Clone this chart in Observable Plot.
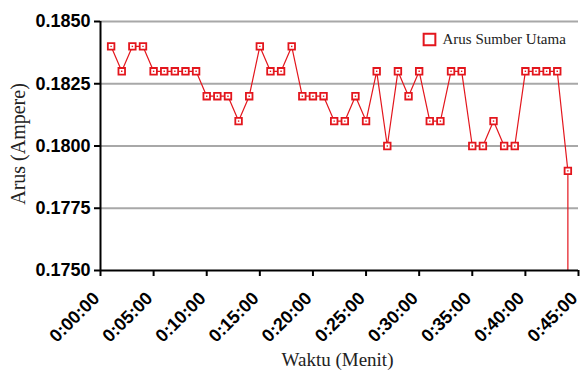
<!DOCTYPE html>
<html>
<head>
<meta charset="utf-8">
<script src="https://cdn.jsdelivr.net/npm/d3@7"></script>
<script src="https://cdn.jsdelivr.net/npm/@observablehq/plot@0.6"></script>
<style>
  html, body { margin: 0; padding: 0; background: #fff; }
</style>
</head>
<body>
<div id="chart"></div>
<script>
// Waktu (menit) for each sample; the final duplicate marks the drop at the end of the record
const menit = [1, 2, 3, 4, 5, 6, 7, 8, 9, 10,
               11, 12, 13, 14, 15, 16, 17, 18, 19, 20,
               21, 22, 23, 24, 25, 26, 27, 28, 29, 30,
               31, 32, 33, 34, 35, 36, 37, 38, 39, 40,
               41, 42, 43, 44, 44];
// Arus (Ampere)
const arus = [0.1840, 0.1830, 0.1840, 0.1840, 0.1830, 0.1830, 0.1830, 0.1830, 0.1830, 0.1820,
              0.1820, 0.1820, 0.1810, 0.1820, 0.1840, 0.1830, 0.1830, 0.1840, 0.1820, 0.1820,
              0.1820, 0.1810, 0.1810, 0.1820, 0.1810, 0.1830, 0.1800, 0.1830, 0.1820, 0.1830,
              0.1810, 0.1810, 0.1830, 0.1830, 0.1800, 0.1800, 0.1810, 0.1800, 0.1800, 0.1830,
              0.1830, 0.1830, 0.1830, 0.1790, 0.0000];
const xTicks = [0, 5, 10, 15, 20, 25, 30, 35, 40, 45];
const yTicks = [0.1750, 0.1775, 0.1800, 0.1825, 0.1850];
const seriesName = "Arus Sumber Utama";
const xTitle = "Waktu (Menit)";
const yTitle = "Arus (Ampere)";

const data = menit.map((m, i) => ({menit: m, arus: arus[i]}));
const red = "#e3161d";
const sans = "'Liberation Sans', Arial, Helvetica, sans-serif";
const serif = "'Liberation Serif', 'Times New Roman', Times, serif";
const fmtTime = m => `0:${String(m).padStart(2, "0")}:00`;

const chart = Plot.plot({
  width: 582,
  height: 374,
  marginLeft: 100,
  marginRight: 4,
  marginTop: 21,
  marginBottom: 104,
  style: {background: "white", fontFamily: sans, color: "black"},
  x: {domain: [0, 45]},
  y: {domain: [0.175, 0.185]},
  marks: [
    Plot.ruleY(yTicks.slice(1), {stroke: "#a8a8a8", strokeWidth: 2}),
    Plot.axisY({ticks: yTicks, tickFormat: d3.format(".4f"), tickSize: 6, tickPadding: 4,
                fontSize: 18, fontWeight: "bold", fontFamily: sans, strokeWidth: 2, label: null, fill: "black"}),
    Plot.axisX({ticks: xTicks, tickSize: 6, strokeWidth: 2, fill: "none", label: null}),
    Plot.text(xTicks, {x: d => d, frameAnchor: "bottom", text: fmtTime, rotate: -45,
                       textAnchor: "end", lineAnchor: "bottom", dx: 0, dy: 29,
                       fontSize: 18, fontWeight: "bold", fontFamily: sans, fill: "black"}),
    Plot.line(data, {x: "menit", y: "arus", stroke: red, strokeWidth: 1.2, clip: true}),
    Plot.dot(data, {x: "menit", y: "arus", symbol: "square", r: 3.7, stroke: red, strokeWidth: 1.8, fill: "white", clip: true}),
    Plot.dot(data, {x: "menit", y: "arus", symbol: "square", r: 0.8, fill: red, clip: true}),
    Plot.ruleX([0], {stroke: "black", strokeWidth: 2}),
    Plot.ruleY([0.175], {stroke: "black", strokeWidth: 2}),
    Plot.dot([seriesName], {frameAnchor: "top-right", dx: -149, dy: 18, symbol: "square", r: 6.6,
                            stroke: red, strokeWidth: 2, fill: "white"}),
    Plot.text([seriesName], {frameAnchor: "top-right", dx: -136, dy: 18, textAnchor: "start", lineAnchor: "middle",
                             fontSize: 15, fontFamily: serif, fill: "#222"}),
    Plot.text([xTitle], {frameAnchor: "bottom", dy: 89, lineAnchor: "middle", textAnchor: "middle", dx: -2,
                         fontSize: 19, fontFamily: serif, fill: "#222"}),
    Plot.text([yTitle], {frameAnchor: "left", dx: -82, dy: -2, rotate: -90, lineAnchor: "middle", textAnchor: "middle",
                         fontSize: 20, fontFamily: serif, fill: "#222"})
  ]
});
document.getElementById("chart").appendChild(chart);
</script>
</body>
</html>
